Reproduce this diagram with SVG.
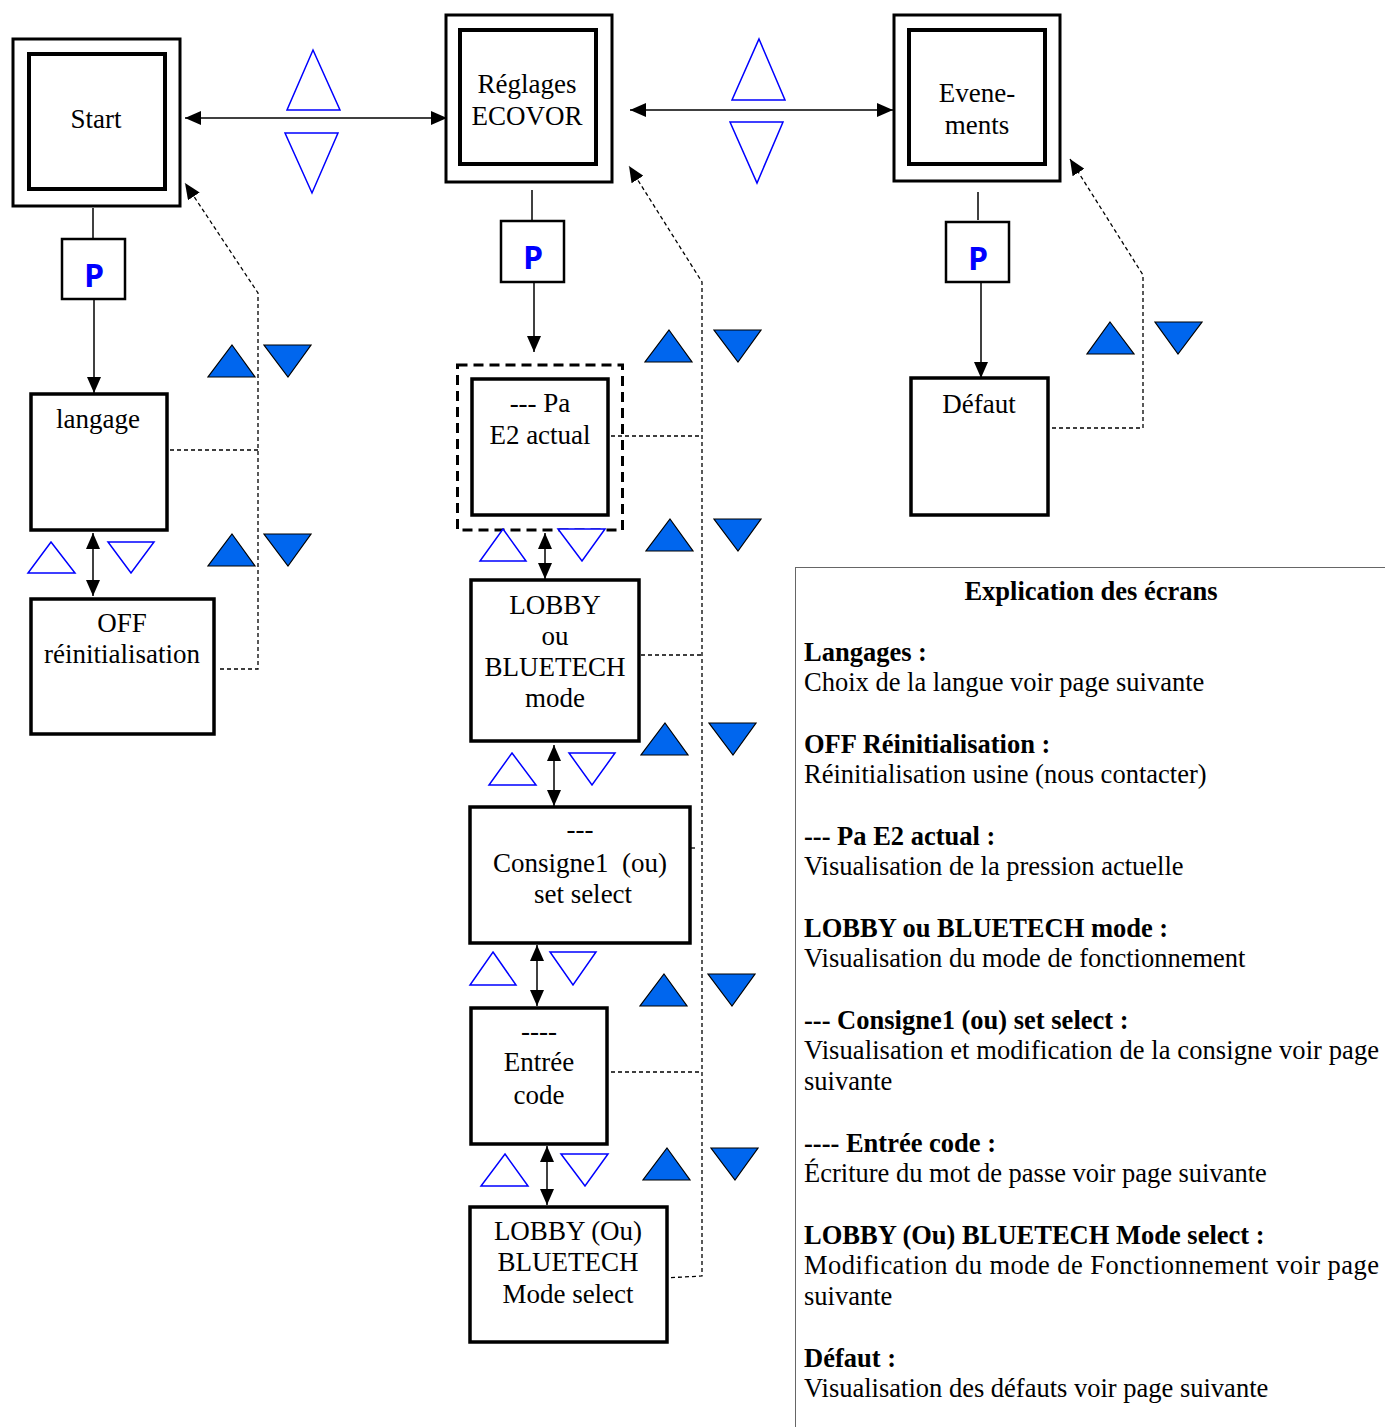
<svg xmlns="http://www.w3.org/2000/svg" width="1385" height="1427" viewBox="0 0 1385 1427">
<style>
.t{font-family:"Liberation Serif","Times New Roman",serif;font-size:27px;fill:#000;text-anchor:middle}
.e{font-family:"Liberation Serif","Times New Roman",serif;font-size:26.5px;fill:#000}
.b{font-weight:bold}
.o{fill:#fff;stroke:#000;stroke-width:3}
.i{fill:none;stroke:#000;stroke-width:4}
.n{fill:#fff;stroke:#000;stroke-width:3.5}
.p{fill:#fff;stroke:#000;stroke-width:2.5}
.pt{font-family:"Open Sans","DejaVu Sans",sans-serif;font-weight:bold;font-size:32px;fill:#0000ff;text-anchor:middle}
.ln{stroke:#000;stroke-width:1.5;fill:none}
.d{stroke:#000;stroke-width:1.3;fill:none;stroke-dasharray:4 3}
.bt{fill:#fff;stroke:#0000ff;stroke-width:1.5}
.ft{fill:#0066ee;stroke:#000;stroke-width:1.2}
</style>
<defs>
<marker id="ah" markerUnits="userSpaceOnUse" markerWidth="16" markerHeight="14" refX="16" refY="7" orient="auto-start-reverse">
<path d="M0,0 L16,7 L0,14 z" fill="#000"/>
</marker>
</defs>

<g id="connectors">
<line class="ln" x1="185" y1="118" x2="447" y2="118" marker-start="url(#ah)" marker-end="url(#ah)"/>
<line class="ln" x1="630" y1="110" x2="893" y2="110" marker-start="url(#ah)" marker-end="url(#ah)"/>
<line class="ln" x1="93" y1="208" x2="93" y2="238"/>
<line class="ln" x1="94" y1="300" x2="94" y2="393" marker-end="url(#ah)"/>
<line class="ln" x1="532" y1="190" x2="532" y2="220"/>
<line class="ln" x1="534" y1="283" x2="534" y2="352" marker-end="url(#ah)"/>
<line class="ln" x1="978" y1="192" x2="978" y2="220"/>
<line class="ln" x1="981" y1="280" x2="981" y2="378" marker-end="url(#ah)"/>
<line class="ln" x1="93" y1="533" x2="93" y2="596" marker-start="url(#ah)" marker-end="url(#ah)"/>
<line class="ln" x1="545" y1="533" x2="545" y2="579" marker-start="url(#ah)" marker-end="url(#ah)"/>
<line class="ln" x1="554" y1="745" x2="554" y2="806" marker-start="url(#ah)" marker-end="url(#ah)"/>
<line class="ln" x1="537" y1="945" x2="537" y2="1006" marker-start="url(#ah)" marker-end="url(#ah)"/>
<line class="ln" x1="547" y1="1146" x2="547" y2="1205" marker-start="url(#ah)" marker-end="url(#ah)"/>
<polyline class="d" points="170,450 258,450"/>
<polyline class="d" points="220,669 258,669 258,293 185,183" marker-end="url(#ah)"/>
<polyline class="d" points="611,436 702,436"/>
<polyline class="d" points="641,655 702,655"/>
<polyline class="d" points="691,848 697,848"/>
<polyline class="d" points="611,1072 702,1072"/>
<polyline class="d" points="664,1278 702,1276 702,282 629,166" marker-end="url(#ah)"/>
<polyline class="d" points="1052,428 1143,428 1143,275 1070,159" marker-end="url(#ah)"/>
</g>

<g id="start">
<rect class="o" x="13" y="39" width="167" height="167"/>
<rect class="i" x="29" y="54" width="136" height="135"/>
<text class="t" x="96" y="128">Start</text>
</g>
<g id="reglages">
<rect class="o" x="446" y="15" width="166" height="167"/>
<rect class="i" x="460" y="30" width="136" height="134"/>
<text class="t" x="527" y="93">Réglages</text>
<text class="t" x="527" y="125">ECOVOR</text>
</g>
<g id="evenements">
<rect class="o" x="894" y="15" width="166" height="166"/>
<rect class="i" x="909" y="30" width="136" height="134"/>
<text class="t" x="977" y="102">Evene-</text>
<text class="t" x="977" y="134">ments</text>
</g>

<g id="p-start"><rect class="p" x="62" y="239" width="63" height="60"/><text class="pt" x="94" y="287">P</text></g>
<g id="p-reglages"><rect class="p" x="501" y="221" width="63" height="61"/><text class="pt" x="533" y="269">P</text></g>
<g id="p-evenements"><rect class="p" x="946" y="222" width="63" height="60"/><text class="pt" x="978" y="270">P</text></g>

<g id="langage"><rect class="n" x="31" y="394" width="136" height="136"/><text class="t" x="98" y="428">langage</text></g>
<g id="off"><rect class="n" x="31" y="599" width="183" height="135"/><text class="t" x="122" y="632">OFF</text><text class="t" x="122" y="663">réinitialisation</text></g>

<g id="pa-e2">
<rect x="457.5" y="365" width="165" height="165" fill="none" stroke="#000" stroke-width="3" stroke-dasharray="10 6"/>
<rect class="n" x="472" y="379" width="136" height="136"/>
<text class="t" x="540" y="412">--- Pa</text>
<text class="t" x="540" y="444">E2 actual</text>
</g>
<g id="lobby-mode"><rect class="n" x="471" y="580" width="168" height="161"/>
<text class="t" x="555" y="614">LOBBY</text><text class="t" x="555" y="645">ou</text><text class="t" x="555" y="676">BLUETECH</text><text class="t" x="555" y="707">mode</text></g>
<g id="consigne"><rect class="n" x="470" y="807" width="220" height="136"/>
<text class="t" x="580" y="838">---</text><text class="t" x="580" y="872" xml:space="preserve">Consigne1  (ou)</text><text class="t" x="583" y="903">set select</text></g>
<g id="entree"><rect class="n" x="471" y="1008" width="136" height="136"/>
<text class="t" x="539" y="1040">----</text><text class="t" x="539" y="1071">Entrée</text><text class="t" x="539" y="1104">code</text></g>
<g id="lobby-select"><rect class="n" x="470" y="1207" width="197" height="135"/>
<text class="t" x="568" y="1240">LOBBY (Ou)</text><text class="t" x="568" y="1271">BLUETECH</text><text class="t" x="568" y="1303">Mode select</text></g>
<g id="defaut"><rect class="n" x="911" y="378" width="137" height="137"/><text class="t" x="979" y="413">Défaut</text></g>

<g id="blue-outline-triangles">
<polygon class="bt" points="313,50 340,110 287,110"/>
<polygon class="bt" points="285,133 338,133 312,193"/>
<polygon class="bt" points="759,39 785,100 732,100"/>
<polygon class="bt" points="730,122 783,122 757,183"/>
<polygon class="bt" points="51,542 75,573 28,573"/>
<polygon class="bt" points="108,542 154,542 131,573"/>
<polygon class="bt" points="503,529 526,561 480,561"/>
<polygon class="bt" points="558,529 605,529 582,561"/>
<polygon class="bt" points="512,753 536,785 489,785"/>
<polygon class="bt" points="569,753 615,753 592,785"/>
<polygon class="bt" points="493,952 516,985 470,985"/>
<polygon class="bt" points="550,952 596,952 573,985"/>
<polygon class="bt" points="505,1154 528,1186 481,1186"/>
<polygon class="bt" points="561,1154 608,1154 585,1186"/>
</g>
<g id="blue-filled-triangles">
<polygon class="ft" points="232,345 255,377 208,377"/>
<polygon class="ft" points="264,345 311,345 288,377"/>
<polygon class="ft" points="232,534 255,566 208,566"/>
<polygon class="ft" points="264,534 311,534 288,566"/>
<polygon class="ft" points="669,330 692,362 645,362"/>
<polygon class="ft" points="714,330 761,330 738,362"/>
<polygon class="ft" points="670,519 693,551 646,551"/>
<polygon class="ft" points="714,519 761,519 738,551"/>
<polygon class="ft" points="665,723 688,755 641,755"/>
<polygon class="ft" points="709,723 756,723 733,755"/>
<polygon class="ft" points="664,974 687,1006 640,1006"/>
<polygon class="ft" points="708,974 755,974 732,1006"/>
<polygon class="ft" points="667,1148 690,1180 643,1180"/>
<polygon class="ft" points="711,1148 758,1148 735,1180"/>
<polygon class="ft" points="1110,322 1134,354 1087,354"/>
<polygon class="ft" points="1155,322 1202,322 1178,354"/>
</g>

<g id="explication">
<rect x="795.5" y="567.5" width="600" height="870" fill="#fff" stroke="#666" stroke-width="1"/>
<text class="e b" x="1091" y="600" text-anchor="middle">Explication des écrans</text>
<text class="e b" x="804" y="661">Langages :</text>
<text class="e" x="804" y="691">Choix de la langue voir page suivante</text>
<text class="e b" x="804" y="753">OFF Réinitialisation :</text>
<text class="e" x="804" y="783">Réinitialisation usine (nous contacter)</text>
<text class="e b" x="804" y="845">--- Pa E2 actual :</text>
<text class="e" x="804" y="875">Visualisation de la pression actuelle</text>
<text class="e b" x="804" y="937">LOBBY ou BLUETECH mode :</text>
<text class="e" x="804" y="967">Visualisation du mode de fonctionnement</text>
<text class="e b" x="804" y="1029">--- Consigne1 (ou) set select :</text>
<text class="e" x="804" y="1059" textLength="575" lengthAdjust="spacing">Visualisation et modification de la consigne voir page</text>
<text class="e" x="804" y="1090">suivante</text>
<text class="e b" x="804" y="1152">---- Entrée code :</text>
<text class="e" x="804" y="1182">Écriture du mot de passe voir page suivante</text>
<text class="e b" x="804" y="1244">LOBBY (Ou) BLUETECH Mode select :</text>
<text class="e" x="804" y="1274" textLength="575" lengthAdjust="spacing">Modification du mode de Fonctionnement voir page</text>
<text class="e" x="804" y="1305">suivante</text>
<text class="e b" x="804" y="1367">Défaut :</text>
<text class="e" x="804" y="1397">Visualisation des défauts voir page suivante</text>
</g>
</svg>
